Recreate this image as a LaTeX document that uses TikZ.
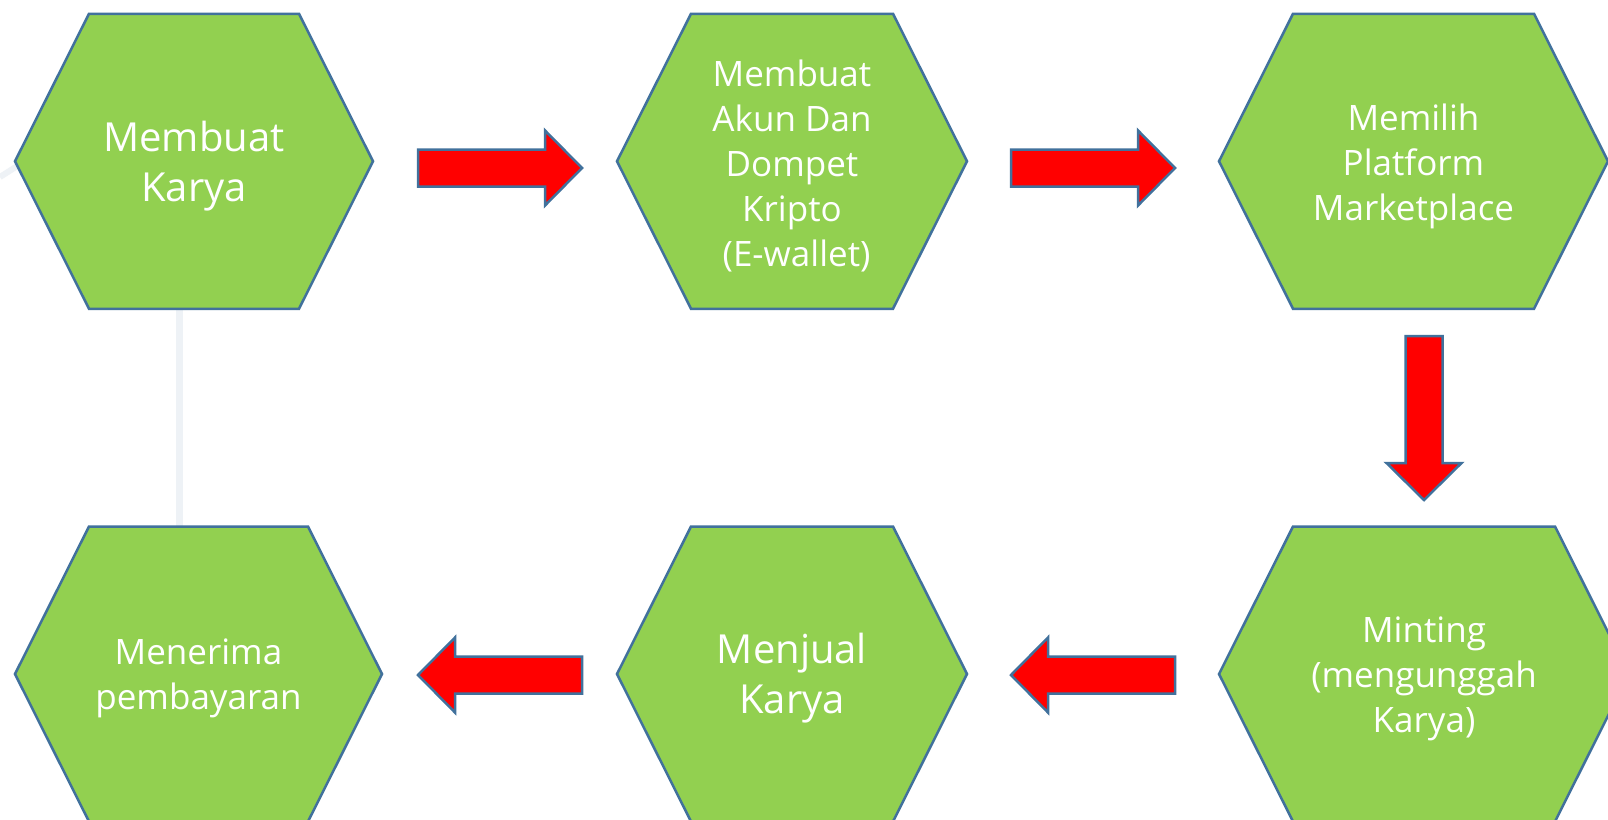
\documentclass[tikz,border=0pt]{standalone}
\usepackage{fontspec}
\newfontfamily\hexfont{Open Sans}
\definecolor{hexgreen}{HTML}{92D050}
\definecolor{hexblue}{HTML}{41719C}
\definecolor{faint}{HTML}{EEF2F6}
\tikzset{
  hexshape/.style={fill=hexgreen, draw=hexblue, line width=2.5pt, line join=miter},
  blockarrow/.style={fill=red, draw=hexblue, line width=2.5pt, line join=miter},
  smalltext/.style={text=white, align=center, inner sep=0pt, font=\hexfont\fontsize{35}{45}\selectfont},
  bigtext/.style={text=white, align=center, inner sep=0pt, font=\hexfont\fontsize{40}{50}\selectfont},
}
% \hexagon{cx}{cy}{half top width}
\newcommand{\hexagon}[3]{%
  \path[hexshape] ({#1-#3},{#2-147.5}) -- ({#1+#3},{#2-147.5}) -- ({#1+#3+74},{#2})
    -- ({#1+#3},{#2+147.5}) -- ({#1-#3},{#2+147.5}) -- ({#1-#3-74},{#2}) -- cycle;}
\begin{document}
\begin{tikzpicture}[x=1pt,y=-1pt]
\useasboundingbox (0,0) rectangle (1608,819);
\clip (0,0) rectangle (1608,819);
\fill[white] (0,0) rectangle (1608,819);
% faint background lines
\draw[faint, line width=7pt] (179.5,300) -- (179.5,530);
\draw[faint, line width=6pt] (0,177) -- (22,163);
% hexagons
\hexagon{194}{161.25}{105}
\hexagon{792}{161.25}{101}
\hexagon{1413.5}{161.25}{120.5}
\hexagon{198.5}{674}{109.5}
\hexagon{792}{674}{101}
\hexagon{1424}{674}{131}
% texts
\node[bigtext]   (h1) at (194,166) {Membuat\\Karya};
\node[smalltext] (h2) at (792,166) {Membuat\\Akun Dan\\Dompet\\Kripto\\\ (E-wallet)};
\node[smalltext] (h3) at (1413.5,166) {Memilih\\Platform\\Marketplace};
\node[smalltext] (h4) at (1424,678.5) {Minting\\(mengunggah\\Karya)};
\node[bigtext]   (h5) at (792,678.5) {Menjual\\Karya};
\node[smalltext] (h6) at (198.5,678.5) {Menerima\\pembayaran};
% block arrows
\path[blockarrow] (418,149.5) -- (545,149.5) -- (545,130.5) -- (582,168) -- (545,205.5) -- (545,186.5) -- (418,186.5) -- cycle;
\path[blockarrow] (1011,149.5) -- (1138,149.5) -- (1138,130.5) -- (1175,168) -- (1138,205.5) -- (1138,186.5) -- (1011,186.5) -- cycle;
\path[blockarrow] (1405.5,336) -- (1442.5,336) -- (1442.5,463) -- (1461.5,463) -- (1424,500) -- (1386.5,463) -- (1405.5,463) -- cycle;
\path[blockarrow] (1175,656.5) -- (1048,656.5) -- (1048,637.5) -- (1011,675) -- (1048,712.5) -- (1048,693.5) -- (1175,693.5) -- cycle;
\path[blockarrow] (582,656.5) -- (455,656.5) -- (455,637.5) -- (418,675) -- (455,712.5) -- (455,693.5) -- (582,693.5) -- cycle;
\end{tikzpicture}
\end{document}
